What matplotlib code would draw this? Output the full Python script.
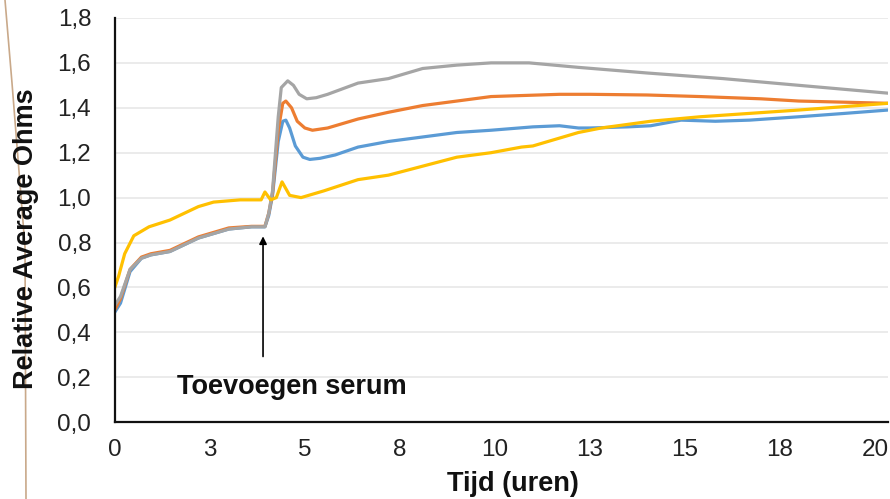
import matplotlib.pyplot as plt
from matplotlib.lines import Line2D

# Data (hours, relative average ohms)
t_blue = [0, 0.15, 0.4, 0.7, 0.95, 1.45, 2.2, 3.0, 3.6, 3.95,
          4.05, 4.15, 4.3, 4.42, 4.5, 4.6, 4.75, 4.95, 5.13, 5.4,
          5.8, 6.4, 7.2, 8.1, 9.0, 9.9, 11.0, 11.7, 12.2, 12.5,
          13.5, 14.1, 14.9, 15.8, 16.7, 18, 19.2, 20.35]
y_blue = [0.49, 0.53, 0.67, 0.73, 0.745, 0.76, 0.82, 0.86, 0.87, 0.87,
          0.92, 1.01, 1.25, 1.34, 1.345, 1.31, 1.23, 1.18, 1.17, 1.175,
          1.19, 1.225, 1.25, 1.27, 1.29, 1.30, 1.315, 1.32, 1.31, 1.31,
          1.315, 1.32, 1.345, 1.34, 1.345, 1.36, 1.375, 1.39]

t_orange = [0, 0.15, 0.4, 0.7, 0.95, 1.45, 2.2, 3.0, 3.6, 3.95,
            4.05, 4.15, 4.3, 4.42, 4.5, 4.65, 4.8, 5.0, 5.2, 5.6,
            6.4, 7.2, 8.1, 9.0, 9.9, 11.7, 12.5, 14, 15.4, 17,
            18, 20.35]
y_orange = [0.50, 0.55, 0.68, 0.735, 0.75, 0.765, 0.825, 0.865, 0.872, 0.872,
            0.93, 1.02, 1.30, 1.42, 1.43, 1.40, 1.34, 1.31, 1.30, 1.31,
            1.35, 1.38, 1.41, 1.43, 1.45, 1.46, 1.46, 1.457, 1.45, 1.44,
            1.43, 1.42]

t_grey = [0, 0.15, 0.4, 0.7, 0.95, 1.45, 2.2, 3.0, 3.6, 3.95,
          4.05, 4.15, 4.3, 4.38, 4.55, 4.7, 4.85, 5.05, 5.3, 5.6,
          6.4, 7.2, 8.1, 9.0, 9.9, 10.9, 12.2, 14, 16, 18,
          20.35]
y_grey = [0.52, 0.56, 0.68, 0.73, 0.745, 0.76, 0.82, 0.86, 0.87, 0.87,
          0.93, 1.03, 1.36, 1.49, 1.52, 1.50, 1.46, 1.44, 1.445, 1.46,
          1.51, 1.53, 1.575, 1.59, 1.60, 1.60, 1.58, 1.555, 1.53, 1.50,
          1.465]

t_yellow = [0, 0.1, 0.26, 0.5, 0.9, 1.45, 2.2, 2.6, 3.3, 3.85,
            3.95, 4.1, 4.25, 4.4, 4.6, 4.9, 5.5, 6.4, 7.2, 8.1,
            9.0, 9.9, 10.7, 11.0, 11.6, 12.2, 12.8, 14.1, 15.4, 16.7,
            18, 20.35]
y_yellow = [0.60, 0.65, 0.75, 0.83, 0.87, 0.90, 0.96, 0.98, 0.99, 0.99,
            1.025, 0.99, 1.00, 1.07, 1.01, 1.00, 1.03, 1.08, 1.10, 1.14,
            1.18, 1.20, 1.225, 1.23, 1.26, 1.29, 1.31, 1.34, 1.36, 1.375,
            1.39, 1.42]

x_ticks = [0, 2.5, 5, 7.5, 10, 12.5, 15, 17.5, 20]
x_ticklabels = ['0', '3', '5', '8', '10', '13', '15', '18', '20']
y_ticks = [0.0, 0.2, 0.4, 0.6, 0.8, 1.0, 1.2, 1.4, 1.6, 1.8]
y_ticklabels = ['0,0', '0,2', '0,4', '0,6', '0,8', '1,0', '1,2', '1,4', '1,6', '1,8']

plt.rcParams['font.family'] = ['Liberation Sans', 'DejaVu Sans']

fig = plt.figure(figsize=(8.9, 4.99), dpi=100)
ax = fig.add_axes([0.129, 0.154, 0.869, 0.81])

lw = 2.3
ax.plot(t_blue, y_blue, color='#5B9BD5', lw=lw)
ax.plot(t_orange, y_orange, color='#ED7D31', lw=lw)
ax.plot(t_grey, y_grey, color='#A5A5A5', lw=lw)
ax.plot(t_yellow, y_yellow, color='#FFC000', lw=lw)

ax.set_xlim(0, 20.35)
ax.set_ylim(0, 1.8)
ax.set_xticks(x_ticks)
ax.set_xticklabels(x_ticklabels)
ax.set_yticks(y_ticks)
ax.set_yticklabels(y_ticklabels)
ax.tick_params(axis='both', length=0, labelsize=17.5, colors='#222222')
ax.tick_params(axis='y', pad=17)
ax.tick_params(axis='x', pad=12)

ax.grid(axis='y', color='#e8e8e8', lw=1.2)
ax.set_axisbelow(True)
for s in ['top', 'right']:
    ax.spines[s].set_visible(False)
for s in ['left', 'bottom']:
    ax.spines[s].set_linewidth(1.6)
    ax.spines[s].set_color('#111111')

ax.set_xlabel('Tijd (uren)', fontsize=19.5, fontweight='bold', color='#111111')
ax.xaxis.set_label_coords(0.515, -0.122)
ax.set_ylabel('Relative Average Ohms', fontsize=19.5, fontweight='bold', color='#111111')
ax.yaxis.set_label_coords(-0.098, 0.453)

ax.annotate('', xy=(3.9, 0.84), xytext=(3.9, 0.28),
            arrowprops=dict(arrowstyle='-|>', color='black', lw=1.2, mutation_scale=11))
ax.text(4.66, 0.156, 'Toevoegen serum', fontsize=19.5, fontweight='bold',
        ha='center', va='center', color='#111111')

# thin edge line along the left border of the original crop, behind the text
fig.add_artist(Line2D([5 / 890, 12 / 890, 25 / 890, 26 / 890],
                      [1, 1 - 83 / 499, 1 - 247 / 499, 0],
                      color='#c9a98a', lw=1.2, zorder=-1))

fig.savefig('out.png', dpi=100)
